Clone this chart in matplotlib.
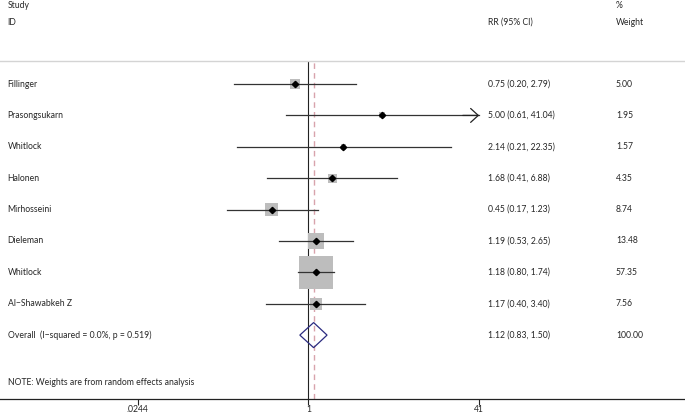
import numpy as np
import matplotlib
matplotlib.use("Agg")
import matplotlib.pyplot as plt
import matplotlib.transforms as mtransforms

plt.rcParams['font.family'] = ['Lato', 'DejaVu Sans']

studies = ["Fillinger", "Prasongsukarn", "Whitlock", "Halonen", "Mirhosseini",
           "Dieleman", "Whitlock", "Al\u2212Shawabkeh Z"]
rr = [0.75, 5.00, 2.14, 1.68, 0.45, 1.19, 1.18, 1.17]
lo = [0.20, 0.61, 0.21, 0.41, 0.17, 0.53, 0.80, 0.40]
hi = [2.79, 41.04, 22.35, 6.88, 1.23, 2.65, 1.74, 3.40]
weights = [5.00, 1.95, 1.57, 4.35, 8.74, 13.48, 57.35, 7.56]

overall_label = "Overall  (I\u2212squared = 0.0%, p = 0.519)"
overall = (1.12, 0.83, 1.50)
overall_weight = 100.00
note = "NOTE: Weights are from random effects analysis"
xticks = [0.0244, 1, 41]
xticklabels = [".0244", "1", "41"]

fs = 6.2
txt_col = "#262626"

fig = plt.figure(figsize=(6.85, 4.16), dpi=100)
ax = fig.add_axes([0, 17.5 / 416, 1, 338 / 416])
ax.set_xscale("log")
# 1 sits at 308 px, 105.9 px per decade
ppd = 105.9
ax.set_xlim(10 ** (-308.4 / ppd), 10 ** ((685 - 308.4) / ppd))
ax.set_ylim(10.02, -0.75)

for s in ["left", "right"]:
    ax.spines[s].set_visible(False)
ax.spines["top"].set_color("#d4d4d4")
ax.spines["top"].set_linewidth(1.0)
ax.spines["bottom"].set_color("#222222")
ax.spines["bottom"].set_linewidth(0.9)
ax.set_yticks([])
ax.set_xticks(xticks)
ax.set_xticklabels(xticklabels, fontsize=fs)
ax.xaxis.set_minor_locator(matplotlib.ticker.NullLocator())
ax.tick_params(axis="x", direction="out", length=4, width=0.8, pad=0.8,
               colors="#222222", labelcolor=txt_col)

# reference lines
ax.axvline(1, color="#222222", lw=0.8, zorder=1)
ax.axvline(overall[0], color="#d8a3ac", lw=1.0, ls=(0, (4, 3)), zorder=1)

xmax_shown = xticks[-1]
ys = np.arange(len(studies))
for i, y in enumerate(ys):
    ax.scatter(rr[i], y, marker="s", s=weights[i] * 9.9, color="#bdbdbd",
               edgecolors="none", zorder=2)
    if hi[i] > xmax_shown:
        ax.plot([lo[i], xmax_shown], [y, y], color="#333333", lw=0.9, zorder=3)
        ax.annotate("", xy=(xmax_shown, y), xytext=(xmax_shown * 0.7, y),
                    arrowprops=dict(arrowstyle="->,head_length=0.55,head_width=0.5",
                                    color="#222222", lw=0.9, shrinkA=0, shrinkB=0),
                    zorder=3)
    else:
        ax.plot([lo[i], hi[i]], [y, y], color="#333333", lw=0.9, zorder=3)
    ax.plot(rr[i], y, marker="D", ms=3.2, color="black", zorder=4)

# overall diamond
yo = len(studies)
est, olo, ohi = overall
ax.fill([olo, est, ohi, est, olo], [yo, yo - 0.4, yo, yo + 0.4, yo],
        facecolor="none", edgecolor="#2b2b80", lw=0.9, zorder=4)

# text columns
tx = mtransforms.blended_transform_factory(fig.transFigure, ax.transData)
x_name, x_rr, x_w = 7.5 / 685, 487.5 / 685, 616 / 685


def fmt(e, l, h):
    return f"{e:.2f} ({l:.2f}, {h:.2f})"


def put(x, y, s):
    ax.text(x, y, s, transform=tx, fontsize=fs, va="center",
            color=txt_col, clip_on=False)


for i, y in enumerate(ys):
    put(x_name, y, studies[i])
    put(x_rr, y, fmt(rr[i], lo[i], hi[i]))
    put(x_w, y, f"{weights[i]:.2f}")

put(x_name, yo, overall_label)
put(x_rr, yo, fmt(*overall))
put(x_w, yo, f"{overall_weight:.2f}")
put(x_name, 9.52, note)

# headers
put(x_name, -2.5, "Study")
put(x_name, -1.97, "ID")
put(x_rr, -1.97, "RR (95% CI)")
put(x_w, -2.5, "%")
put(x_w, -1.97, "Weight")

fig.savefig("out.png", dpi=100)
